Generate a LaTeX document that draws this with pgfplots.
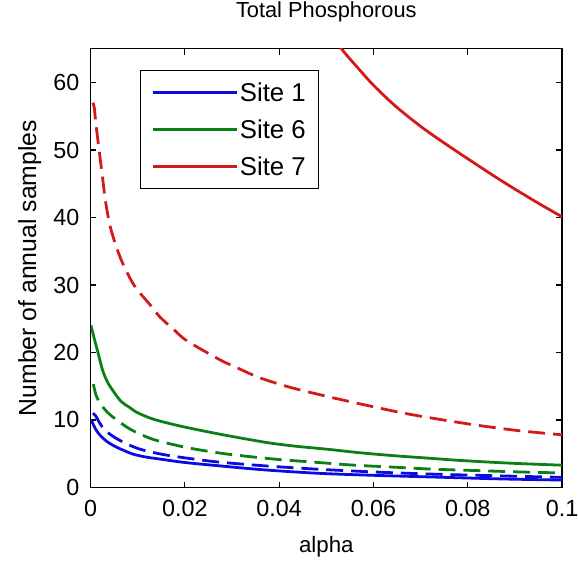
\documentclass[border=0pt]{standalone}
\usepackage{pgfplots}
\pgfplotsset{compat=1.18}
\usepackage{fontspec}
\setmainfont{Liberation Sans}
\definecolor{cb}{RGB}{10,10,225}
\definecolor{cg}{RGB}{10,128,20}
\definecolor{cr}{RGB}{212,25,25}
\begin{document}
\begin{tikzpicture}
\begin{axis}[
  scale only axis, width=474bp, height=441bp,
  xmin=0, xmax=0.1, ymin=0, ymax=65,
  xtick={0,0.02,0.04,0.06,0.08,0.1},
  xticklabels={0,0.02,0.04,0.06,0.08,0.1},
  ytick={0,10,20,30,40,50,60},
  tick align=inside, major tick length=6bp,
  axis line style={line width=1.2bp},
  every tick/.style={line width=1.2bp, black},
  tick label style={font=\fontsize{23.5}{26}\selectfont, inner sep=0pt},
  xticklabel style={anchor=center, yshift=-21bp},
  yticklabel style={anchor=east, xshift=-11bp},
  /pgf/number format/assume math mode=true,
  title={Total Phosphorous},
  title style={font=\fontsize{22}{24}\selectfont, at={(axis description cs:0.5,1.0703)}, anchor=center},
  xlabel={alpha},
  xlabel style={font=\fontsize{22.5}{24}\selectfont, at={(axis description cs:0.5,-0.136)}, anchor=center},
  ylabel={Number of annual samples},
  ylabel style={font=\fontsize{25}{27}\selectfont, at={(axis description cs:-0.1287,0.5)}, anchor=center},
  legend style={at={(0.105,0.952)}, anchor=north west, draw=black, line width=1.2bp,
    font=\fontsize{26}{28}\selectfont, row sep=13bp, inner xsep=11bp, inner ysep=10bp},
  legend cell align=left,
  legend image code/.code={\draw[#1, line width=2.8bp] (4bp,0bp) -- (88bp,0bp);},
  every axis plot/.append style={line width=2.8bp},
]
\addlegendimage{cb}\addlegendentry{Site 1}
\addlegendimage{cg}\addlegendentry{Site 6}
\addlegendimage{cr}\addlegendentry{Site 7}
% Site 1 solid
\addplot[cb, smooth, forget plot] coordinates {(0.0001,10.0) (0.0004,9.6) (0.0012,8.5) (0.0022,7.6) (0.0035,6.8) (0.005,6.15) (0.007,5.5) (0.0092,4.9) (0.0118,4.5) (0.0148,4.2) (0.02,3.7) (0.0274,3.2) (0.037,2.6) (0.0483,2.1) (0.06,1.8) (0.075,1.5) (0.088,1.25) (0.1,1.1)};
% Site 1 dashed
\addplot[cb, smooth, dash pattern=on 17bp off 8bp, forget plot] coordinates {(0.0005,11.0) (0.0011,10.6) (0.0019,9.6) (0.0029,8.6) (0.0045,7.7) (0.0064,6.9) (0.0085,6.2) (0.0106,5.65) (0.0135,5.15) (0.0169,4.7) (0.022,4.2) (0.0274,3.75) (0.037,3.2) (0.0483,2.7) (0.06,2.3) (0.0715,2.0) (0.085,1.75) (0.1,1.5)};
% Site 6 solid
\addplot[cg, smooth, forget plot] coordinates {(0.0001,24.0) (0.0007,22.3) (0.0015,20.2) (0.0025,17.5) (0.0034,15.9) (0.0043,14.8) (0.0064,12.8) (0.0082,11.9) (0.0099,11.1) (0.0134,10.1) (0.019,9.1) (0.0274,7.9) (0.037,6.7) (0.043,6.15) (0.0504,5.65) (0.057,5.15) (0.0645,4.7) (0.0715,4.35) (0.0785,4.0) (0.089,3.6) (0.1,3.3)};
% Site 6 dashed
\addplot[cg, smooth, dash pattern=on 17bp off 8bp, forget plot] coordinates {(0.0006,15.3) (0.0012,13.6) (0.0022,12.3) (0.0035,11.2) (0.005,10.3) (0.0085,8.6) (0.0134,7.1) (0.0205,5.9) (0.0274,5.1) (0.0314,4.75) (0.039,4.2) (0.0483,3.7) (0.056,3.3) (0.0645,3.0) (0.073,2.7) (0.082,2.5) (0.091,2.3) (0.1,2.15)};
% Site 7 dashed
\addplot[cr, smooth, dash pattern=on 17bp off 8bp, forget plot] coordinates {(0.0005,57) (0.0008,56.3) (0.0011,54.1) (0.0018,50.1) (0.0025,46.2) (0.0032,42.3) (0.0043,38.3) (0.0064,33.9) (0.0092,30.0) (0.0127,27.0) (0.0148,25.2) (0.0178,23.3) (0.0205,21.7) (0.0275,18.9) (0.0315,17.6) (0.0357,16.3) (0.042,14.9) (0.0483,13.8) (0.0532,13.0) (0.061,11.8) (0.0665,11.0) (0.0722,10.3) (0.0775,9.7) (0.0827,9.15) (0.091,8.4) (0.1,7.8)};
% Site 7 solid
\addplot[cr, smooth, forget plot] coordinates {(0.0515,67) (0.0532,65) (0.0574,61.6) (0.06,59.6) (0.0645,56.6) (0.07,53.5) (0.0755,50.8) (0.08,48.7) (0.085,46.4) (0.09,44.2) (0.095,42.1) (0.1,40.1)};
\end{axis}
\pgfresetboundingbox
\path[use as bounding box] ([xshift=-91bp,yshift=-76bp]current axis.south west) rectangle ([xshift=16bp,yshift=49bp]current axis.north east);
\end{tikzpicture}
\end{document}
